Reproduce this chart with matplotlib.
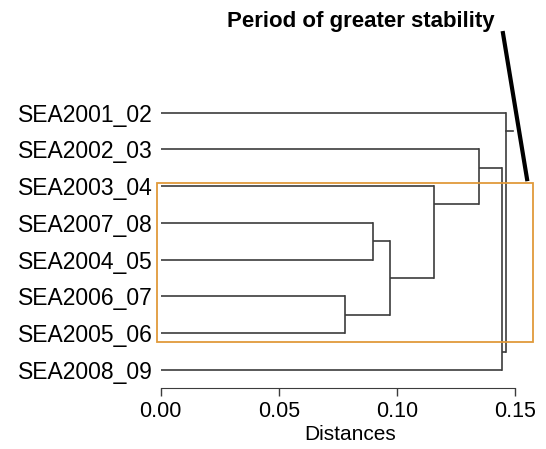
# Dendrogram of seasons with highlighted stability period
import matplotlib
matplotlib.use("Agg")
import matplotlib.pyplot as plt
from matplotlib.patches import Rectangle

plt.rcParams["font.family"] = ["Liberation Sans", "DejaVu Sans"]

LEAVES = ["SEA2001_02", "SEA2002_03", "SEA2003_04", "SEA2007_08",
          "SEA2004_05", "SEA2006_07", "SEA2005_06", "SEA2008_09"]
# merges: (child a, child b, distance); leaves are 0..7, new nodes from 8
MERGES = [(5, 6, 0.078), (3, 4, 0.090), (9, 8, 0.097), (2, 10, 0.1158),
          (1, 11, 0.1346), (12, 7, 0.1447), (0, 13, 0.1463)]
ROOT_TOP = 0.149
XTICKS = [0.00, 0.05, 0.10, 0.15]
BOX_ROWS = (1.92, 6.25)
BOX_X = (-0.0015, 0.1578)

LINE_COL = "#3c3c3c"
BOX_COL = "#e09a3a"

fig = plt.figure(figsize=(5.46, 4.49), dpi=100)
ax = fig.add_axes([0.2943, 0.135, 0.6922, 0.6553])

n = len(LEAVES)
pos = {i: float(i) for i in range(n)}
height = {i: 0.0 for i in range(n)}
for k, (a, b, d) in enumerate(MERGES):
    node = n + k
    a_leaf, b_leaf = a < n, b < n
    if a_leaf and not b_leaf:
        p = pos[a] + (0.5 if pos[b] > pos[a] else -0.5)
    elif b_leaf and not a_leaf:
        p = pos[b] + (0.5 if pos[a] > pos[b] else -0.5)
    else:
        p = (pos[a] + pos[b]) / 2
    for c in (a, b):
        ax.plot([height[c], d], [pos[c], pos[c]], color=LINE_COL, lw=1.2,
                solid_capstyle="butt", clip_on=False)
    ax.plot([d, d], [pos[a], pos[b]], color=LINE_COL, lw=1.2, clip_on=False)
    pos[node], height[node] = p, d

root = n + len(MERGES) - 1
ax.plot([height[root], ROOT_TOP], [pos[root], pos[root]], color=LINE_COL,
        lw=1.2, clip_on=False)

# highlight box
ax.add_patch(Rectangle((BOX_X[0], BOX_ROWS[0]), BOX_X[1] - BOX_X[0],
                       BOX_ROWS[1] - BOX_ROWS[0], fill=False,
                       edgecolor=BOX_COL, lw=1.3, clip_on=False, zorder=3))

ax.set_xlim(0, 0.16)
ax.set_ylim(n - 0.5, -0.5)
ax.set_yticks(range(n))
ax.set_yticklabels(LEAVES, fontsize=16.5)
ax.tick_params(axis="y", length=0, pad=5.5)
ax.set_xticks(XTICKS)
ax.set_xticklabels([f"{t:.2f}" for t in XTICKS], fontsize=15.5)
ax.tick_params(axis="x", length=6, width=1, color=LINE_COL, pad=3)
ax.set_xlabel("Distances", fontsize=15, labelpad=2)

for side in ("top", "right", "left"):
    ax.spines[side].set_visible(False)
ax.spines["bottom"].set_bounds(0, 0.15)
ax.spines["bottom"].set_color(LINE_COL)

# annotation
fig.text(0.416, 0.94, "Period of greater stability", fontsize=16,
         fontweight="bold", va="baseline", ha="left")
ax.plot([0.1449, 0.1551], [-2.16, 1.81], color="black", lw=3,
        clip_on=False)

fig.savefig("out.png", dpi=100)
